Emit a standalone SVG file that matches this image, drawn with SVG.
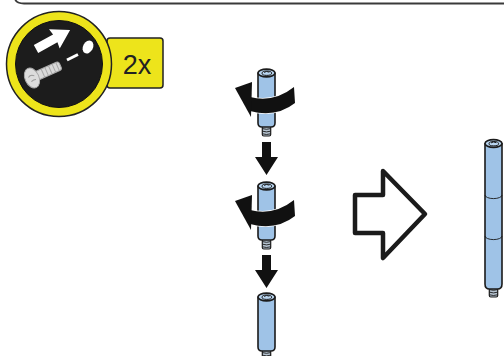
<svg xmlns="http://www.w3.org/2000/svg" xmlns:xlink="http://www.w3.org/1999/xlink" width="504" height="356" viewBox="0 0 504 356">
  <style>
    .ink { stroke: #1b1b1b; stroke-width: 1.6; stroke-linejoin: round; }
    .body { fill: #9fc3e7; }
    .cap { fill: #b9d5f0; }
    .hole { fill: none; stroke: #1b1b1b; stroke-width: 1; }
    .thread { fill: #b4c2cf; stroke: #1b1b1b; stroke-width: 1.2; }
    .tline { fill: none; stroke: #1b1b1b; stroke-width: 0.9; }
    .solid { fill: #111; }
    .yellow { fill: #ede41b; stroke: #222; stroke-width: 1.5; }
    .label { font-family: "Liberation Sans", Arial, sans-serif; font-size: 27px; fill: #222; }
    .white { fill: #fff; }
  </style>
  <defs>
    <!-- threaded stub under a standoff, top centred at 0,0 -->
    <g id="stub">
      <rect class="thread" x="-4.2" y="0" width="8.4" height="10" rx="1.5"/>
      <path class="tline" d="M-4 2.6 Q0 4 4 2.6 M-4 5.2 Q0 6.6 4 5.2 M-4 7.8 Q0 9.2 4 7.8"/>
    </g>
    <!-- top face of a standoff with its tapped hole -->
    <g id="cap">
      <ellipse class="cap ink" cx="0" cy="0" rx="8.5" ry="3.9"/>
      <ellipse class="hole" cx="0.3" cy="0.2" rx="4.8" ry="2.2"/>
      <path class="hole" d="M-2.5 -0.6 Q0 -2.4 2.8 -0.8"/>
    </g>
    <!-- short standoff, top face centred at 0,0 -->
    <g id="standoff">
      <use xlink:href="#stub" y="53"/>
      <path class="body ink" d="M-8.5 0 L-8.5 50 Q-8.5 54 -4.5 54 L4.5 54 Q8.5 54 8.5 50 L8.5 0 Z"/>
      <use xlink:href="#cap"/>
    </g>
    <!-- twisting arrow wrapped around a standoff -->
    <g id="twist">
      <path class="solid" stroke="#fff" stroke-width="1.5" paint-order="stroke" d="M294 87 Q274 103 250 97 L250 111 Q276 118 295 103 Z"/>
      <polygon class="solid" points="235,88 252,82 251,117"/>
    </g>
    <!-- downward step arrow -->
    <polygon id="down" class="solid" points="262,142 271,142 271,157 278,157 266.5,175 255,157 262,157"/>
  </defs>

  <!-- frame edge along the top -->
  <path d="M15 -1 Q16.5 3.5 24 3.5 L505 3.5" fill="none" stroke="#3a3a3a" stroke-width="1.8"/>

  <!-- quantity badge -->
  <g id="badge">
    <rect class="yellow" x="107" y="38" width="56" height="50" rx="3"/>
    <text class="label" x="137" y="74" text-anchor="middle">2x</text>
    <circle class="yellow" cx="59" cy="64" r="52.5"/>
    <circle cx="59" cy="64" r="43.5" fill="#1c1c1c" stroke="#111" stroke-width="1"/>
    <!-- insertion arrow -->
    <polygon class="white" transform="translate(36 49) rotate(-29)" points="0,-4.5 22,-4.5 21,-11 39,0 21,11 22,4.5 0,4.5"/>
    <!-- target hole -->
    <ellipse class="white" cx="88" cy="47" rx="5" ry="6.8" transform="rotate(28 88 47)"/>
    <line x1="67" y1="60" x2="78" y2="54.5" stroke="#fff" stroke-width="3"/>
    <!-- screw -->
    <g transform="translate(32 78) rotate(-24)">
      <rect x="4" y="-4.5" width="27" height="9" rx="2.5" fill="#d9d9d9" stroke="#a8a8a8" stroke-width="1"/>
      <path d="M12 -4.5 L12 4.5 M16 -4.5 L16 4.5 M20 -4.5 L20 4.5 M24 -4.5 L24 4.5 M28 -4.5 L28 4.5" stroke="#a8a8a8" stroke-width="1" fill="none"/>
      <ellipse cx="0" cy="0" rx="7" ry="10.5" fill="#dcdcdc" stroke="#a8a8a8" stroke-width="1"/>
      <path d="M-3 -2 Q0 -4 3 -1 M-2 3 Q1 2 3 3" stroke="#9a9a9a" stroke-width="1" fill="none"/>
    </g>
  </g>

  <!-- assembly sequence -->
  <g id="standoff-1">
    <use xlink:href="#standoff" x="266.5" y="73"/>
    <use xlink:href="#twist"/>
  </g>
  <g id="standoff-2">
    <use xlink:href="#standoff" x="266.5" y="186"/>
    <use xlink:href="#twist" y="113"/>
  </g>
  <g id="standoff-3">
    <use xlink:href="#standoff" x="266.5" y="297"/>
  </g>

  <!-- assembled column -->
  <g id="column">
    <use xlink:href="#stub" x="493.5" y="287"/>
    <path class="body ink" d="M485 143.5 L485 284 Q485 289 489.5 289 L497.5 289 Q502 289 502 284 L502 143.5 Z"/>
    <path class="tline" stroke-width="1.2" d="M485 195 A8.5 3.6 0 0 0 502 195 M485 236 A8.5 3.6 0 0 0 502 236"/>
    <use xlink:href="#cap" x="493.5" y="143.5"/>
  </g>

  <g id="connectors">
    <use xlink:href="#down"/>
    <use xlink:href="#down" y="113"/>
    <polygon points="355,195 383,195 383,171 425,214 383,258 383,233 355,233" fill="#fff" stroke="#1b1b1b" stroke-width="4.5" stroke-linejoin="round"/>
  </g>
</svg>
